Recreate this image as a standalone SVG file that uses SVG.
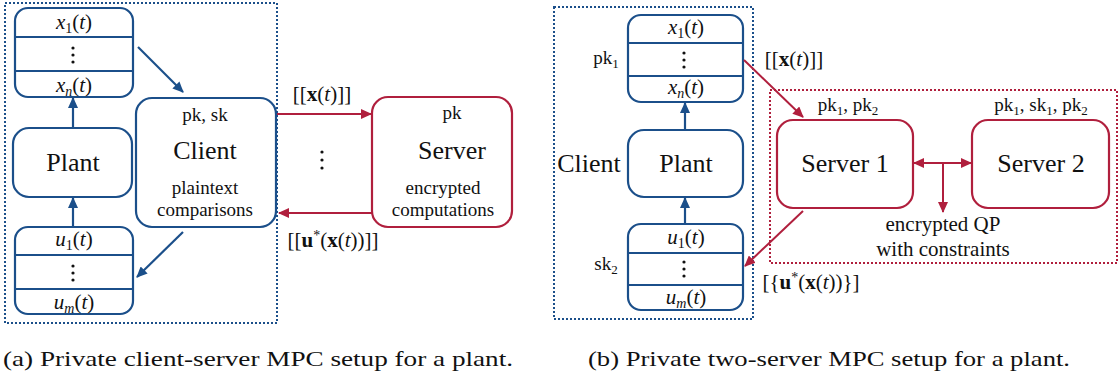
<svg xmlns="http://www.w3.org/2000/svg" width="1120" height="379" viewBox="0 0 1120 379" font-family="'Liberation Serif', 'Times New Roman', Times, 'DejaVu Serif', serif">
  <style>
    text { font-family: 'Liberation Serif', 'Times New Roman', Times, 'DejaVu Serif', serif; fill: #111; }
    .blue { fill: #fff; stroke: #1b4f8a; stroke-width: 2.2; }
    .red { fill: #fff; stroke: #b01f3d; stroke-width: 2.2; }
    .bdiv { stroke: #1b4f8a; stroke-width: 2.2; }
    .bdot { fill: none; stroke: #1b4f8a; stroke-width: 2; stroke-dasharray: 2 2; }
    .rdot { fill: none; stroke: #b01f3d; stroke-width: 2; stroke-dasharray: 2 2; }
    .ba { stroke: #1b4f8a; stroke-width: 2.2; fill: none; marker-end: url(#ahB); }
    .ra { stroke: #b01f3d; stroke-width: 2; fill: none; marker-end: url(#ahR); }
    .big { font-size: 26px; }
    .mid { font-size: 21px; }
    .two { font-size: 19px; }
    .sm { font-size: 19px; }
    .math { font-size: 21px; }
    .i { font-style: italic; }
    .b { font-weight: bold; }
    .cap { font-size: 21px; }
  </style>
  <defs>
    <marker id="ahB" markerUnits="userSpaceOnUse" markerWidth="11" markerHeight="10" refX="10" refY="5" orient="auto-start-reverse">
      <path d="M0,0 L11,5 L0,10 z" fill="#1b4f8a"/>
    </marker>
    <marker id="ahR" markerUnits="userSpaceOnUse" markerWidth="11" markerHeight="10" refX="10" refY="5" orient="auto-start-reverse">
      <path d="M0,0 L11,5 L0,10 z" fill="#b01f3d"/>
    </marker>
  </defs>

  <!-- (a) client-server setup -->
  <rect class="bdot" x="5" y="3" width="272" height="320"/>

  <g id="a-states">
    <rect class="blue" x="15" y="8" width="118" height="89" rx="13"/>
    <line class="bdiv" x1="15" y1="37" x2="133" y2="37"/>
    <line class="bdiv" x1="15" y1="71" x2="133" y2="71"/>
    <text class="math" x="74" y="29" text-anchor="middle"><tspan class="i">x</tspan><tspan font-size="14" dy="4">1</tspan><tspan dy="-4">(</tspan><tspan class="i">t</tspan>)</text>
    <circle cx="73" cy="48" r="1.6" fill="#111"/><circle cx="73" cy="55" r="1.6" fill="#111"/><circle cx="73" cy="62" r="1.6" fill="#111"/>
    <text class="math" x="74" y="92" text-anchor="middle"><tspan class="i">x</tspan><tspan class="i" font-size="14" dy="4">n</tspan><tspan dy="-4">(</tspan><tspan class="i">t</tspan>)</text>
  </g>

  <g id="a-plant">
    <rect class="blue" x="13" y="128" width="119" height="69" rx="16"/>
    <text class="big" x="73" y="171" text-anchor="middle">Plant</text>
  </g>

  <g id="a-inputs">
    <rect class="blue" x="15" y="227" width="118" height="87" rx="13"/>
    <line class="bdiv" x1="15" y1="255" x2="133" y2="255"/>
    <line class="bdiv" x1="15" y1="289" x2="133" y2="289"/>
    <text class="math" x="74" y="246" text-anchor="middle"><tspan class="i">u</tspan><tspan font-size="14" dy="4">1</tspan><tspan dy="-4">(</tspan><tspan class="i">t</tspan>)</text>
    <circle cx="73" cy="266" r="1.6" fill="#111"/><circle cx="73" cy="273" r="1.6" fill="#111"/><circle cx="73" cy="280" r="1.6" fill="#111"/>
    <text class="math" x="74" y="309" text-anchor="middle"><tspan class="i">u</tspan><tspan class="i" font-size="14" dy="4">m</tspan><tspan dy="-4">(</tspan><tspan class="i">t</tspan>)</text>
  </g>

  <g id="a-client">
    <rect class="blue" x="136" y="98" width="140" height="129" rx="16"/>
    <text class="sm" x="205" y="121" text-anchor="middle">pk, sk</text>
    <text class="big" x="205" y="159" text-anchor="middle">Client</text>
    <text class="two" x="205" y="194" text-anchor="middle">plaintext</text>
    <text class="two" x="205" y="216" text-anchor="middle">comparisons</text>
  </g>

  <g id="a-server">
    <rect class="red" x="372" y="97" width="140" height="130" rx="16"/>
    <text class="sm" x="452" y="119" text-anchor="middle">pk</text>
    <text class="big" x="452" y="159" text-anchor="middle">Server</text>
    <text class="two" x="443" y="194" text-anchor="middle">encrypted</text>
    <text class="two" x="443" y="216" text-anchor="middle">computations</text>
  </g>

  <!-- (b) two-server setup -->
  <rect class="bdot" x="554" y="7" width="199" height="312"/>
  <rect class="rdot" x="770" y="90" width="347" height="173"/>

  <g id="b-client-label">
    <text class="big" x="589" y="172" text-anchor="middle">Client</text>
    <text class="sm" x="606" y="64" text-anchor="middle">pk<tspan font-size="13" dy="4">1</tspan></text>
    <text class="sm" x="606" y="270" text-anchor="middle">sk<tspan font-size="13" dy="4">2</tspan></text>
  </g>

  <g id="b-states">
    <rect class="blue" x="628" y="15" width="115" height="87" rx="13"/>
    <line class="bdiv" x1="628" y1="43" x2="743" y2="43"/>
    <line class="bdiv" x1="628" y1="76" x2="743" y2="76"/>
    <text class="math" x="686" y="34" text-anchor="middle"><tspan class="i">x</tspan><tspan font-size="14" dy="4">1</tspan><tspan dy="-4">(</tspan><tspan class="i">t</tspan>)</text>
    <circle cx="684" cy="53" r="1.6" fill="#111"/><circle cx="684" cy="60" r="1.6" fill="#111"/><circle cx="684" cy="67" r="1.6" fill="#111"/>
    <text class="math" x="686" y="94" text-anchor="middle"><tspan class="i">x</tspan><tspan class="i" font-size="14" dy="4">n</tspan><tspan dy="-4">(</tspan><tspan class="i">t</tspan>)</text>
  </g>

  <g id="b-plant">
    <rect class="blue" x="628" y="130" width="115" height="67" rx="16"/>
    <text class="big" x="686" y="172" text-anchor="middle">Plant</text>
  </g>

  <g id="b-inputs">
    <rect class="blue" x="628" y="224" width="115" height="86" rx="13"/>
    <line class="bdiv" x1="628" y1="253" x2="743" y2="253"/>
    <line class="bdiv" x1="628" y1="285" x2="743" y2="285"/>
    <text class="math" x="686" y="244" text-anchor="middle"><tspan class="i">u</tspan><tspan font-size="14" dy="4">1</tspan><tspan dy="-4">(</tspan><tspan class="i">t</tspan>)</text>
    <circle cx="684" cy="262" r="1.6" fill="#111"/><circle cx="684" cy="269" r="1.6" fill="#111"/><circle cx="684" cy="276" r="1.6" fill="#111"/>
    <text class="math" x="686" y="304" text-anchor="middle"><tspan class="i">u</tspan><tspan class="i" font-size="14" dy="4">m</tspan><tspan dy="-4">(</tspan><tspan class="i">t</tspan>)</text>
  </g>

  <g id="b-server1">
    <rect class="red" x="777" y="120" width="136" height="88" rx="16"/>
    <text class="big" x="845" y="172" text-anchor="middle">Server 1</text>
    <text class="sm" x="848" y="111" text-anchor="middle">pk<tspan font-size="13" dy="4">1</tspan><tspan dy="-4">, pk</tspan><tspan font-size="13" dy="4">2</tspan></text>
  </g>

  <g id="b-server2">
    <rect class="red" x="972" y="120" width="137" height="88" rx="16"/>
    <text class="big" x="1041" y="172" text-anchor="middle">Server 2</text>
    <text class="sm" x="1041" y="111" text-anchor="middle">pk<tspan font-size="13" dy="4">1</tspan><tspan dy="-4">, sk</tspan><tspan font-size="13" dy="4">1</tspan><tspan dy="-4">, pk</tspan><tspan font-size="13" dy="4">2</tspan></text>
  </g>

  <g id="b-qp">
    <text class="mid" x="943" y="231" text-anchor="middle">encrypted QP</text>
    <text class="mid" x="943" y="256" text-anchor="middle">with constraints</text>
  </g>

  <!-- connectors -->
  <g id="connectors">
    <line class="ba" x1="73" y1="128" x2="73" y2="98"/>
    <line class="ba" x1="73" y1="227" x2="73" y2="198"/>
    <line class="ba" x1="138" y1="47" x2="183" y2="92"/>
    <line class="ba" x1="183" y1="232" x2="137" y2="277"/>
    <line class="ra" x1="277" y1="114" x2="371" y2="114"/>
    <line class="ra" x1="372" y1="213" x2="279" y2="213"/>

    <line class="ba" x1="685" y1="130" x2="685" y2="103"/>
    <line class="ba" x1="685" y1="224" x2="685" y2="198"/>
    <line class="ra" x1="744" y1="60" x2="803" y2="117"/>
    <line class="ra" x1="803" y1="211" x2="745" y2="266"/>
    <line class="ra" x1="914" y1="163" x2="971" y2="163" marker-start="url(#ahR)"/>
    <line class="ra" x1="943" y1="163" x2="943" y2="212"/>
  </g>

  <g id="connector-labels">
    <text class="math" x="322" y="101" text-anchor="middle">[[<tspan class="b">x</tspan>(<tspan class="i">t</tspan>)]]</text>
    <circle cx="322" cy="152" r="1.6" fill="#111"/><circle cx="322" cy="160" r="1.6" fill="#111"/><circle cx="322" cy="168" r="1.6" fill="#111"/>
    <text class="math" x="333" y="247" text-anchor="middle">[[<tspan class="b">u</tspan><tspan font-size="14" dy="-7">*</tspan><tspan dy="7">(</tspan><tspan class="b">x</tspan>(<tspan class="i">t</tspan>))]]</text>
    <text class="math" x="794" y="66" text-anchor="middle">[[<tspan class="b">x</tspan>(<tspan class="i">t</tspan>)]]</text>
    <text class="math" x="811" y="289" text-anchor="middle">[{<tspan class="b">u</tspan><tspan font-size="14" dy="-7">*</tspan><tspan dy="7">(</tspan><tspan class="b">x</tspan>(<tspan class="i">t</tspan>))}]</text>
  </g>

  <g id="captions">
    <text class="cap" x="3" y="366" textLength="510" lengthAdjust="spacingAndGlyphs">(a) Private client-server MPC setup for a plant.</text>
    <text class="cap" x="588" y="366" textLength="482" lengthAdjust="spacingAndGlyphs">(b) Private two-server MPC setup for a plant.</text>
  </g>
</svg>
